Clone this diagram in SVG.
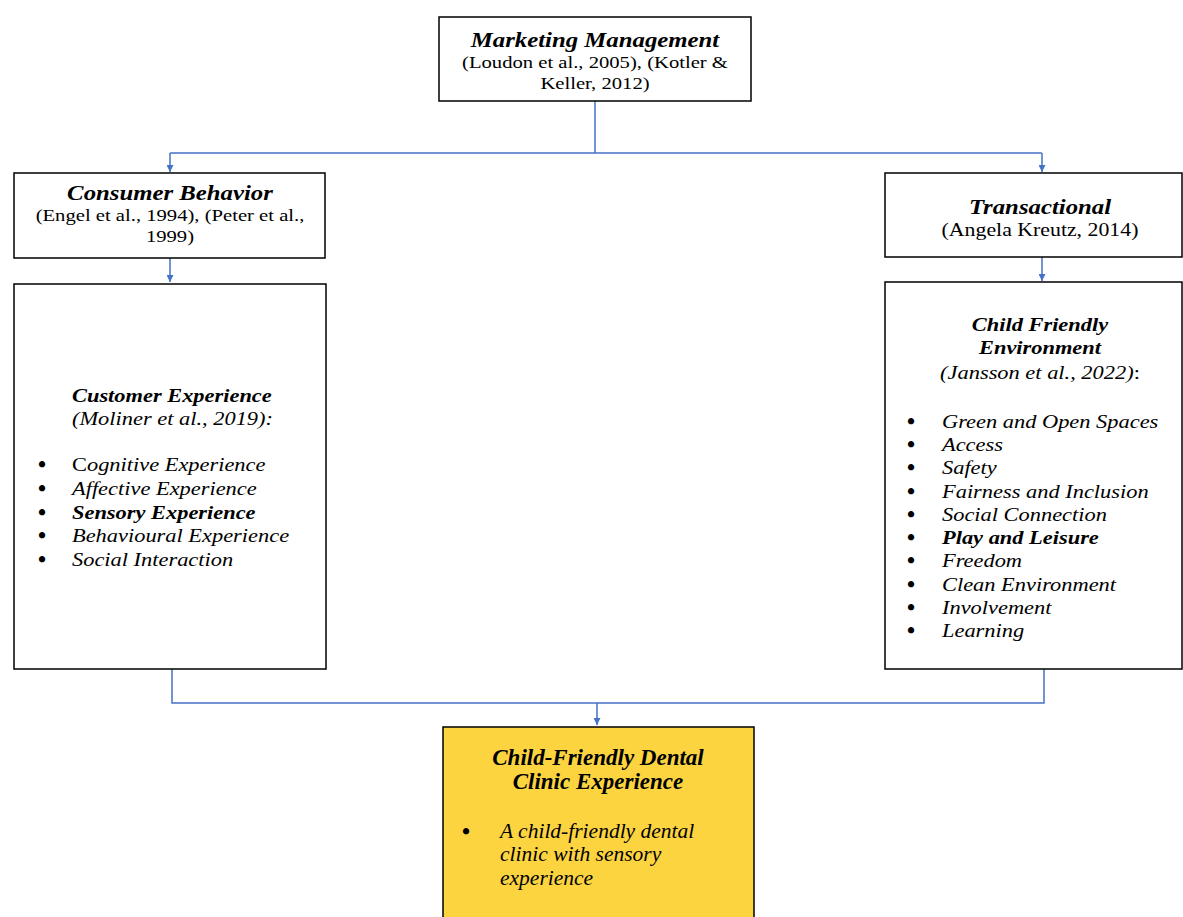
<svg xmlns="http://www.w3.org/2000/svg" width="1183" height="917" viewBox="0 0 1183 917">
<defs>
<style>
.box{fill:#fff;stroke:#000;stroke-width:1.5}
.yel{fill:#FCD440;stroke:#000;stroke-width:1.5}
.con{fill:none;stroke:#4472C4;stroke-width:1.5}
.t{font-family:"Liberation Serif","Times New Roman",serif;fill:#000}
.h{font-size:21px;font-weight:bold;font-style:italic}
.c{font-size:17.5px}
.i{font-size:19px;font-style:italic}
.b{font-size:19px;font-style:italic;font-weight:bold}
.bul{font-size:23px;font-weight:bold}
.m{text-anchor:middle}
</style>
<marker id="ah" viewBox="0 0 10 10" refX="10" refY="5" markerWidth="7" markerHeight="7" markerUnits="userSpaceOnUse" orient="auto">
<path d="M0,0 L10,5 L0,10 z" fill="#4472C4"/>
</marker>
</defs>
<rect width="1183" height="917" fill="#fff"/>
<g id="connectors">
<path class="con" d="M595,101 V153"/>
<path class="con" d="M170,153 H1042"/>
<path class="con" d="M170,153 V172" marker-end="url(#ah)"/>
<path class="con" d="M1042,153 V172" marker-end="url(#ah)"/>
<path class="con" d="M170,258 V282" marker-end="url(#ah)"/>
<path class="con" d="M1042,257 V281" marker-end="url(#ah)"/>
<path class="con" d="M172,669 V703 H1044 V669"/>
<path class="con" d="M597,703 V725" marker-end="url(#ah)"/>
</g>
<g id="marketing">
<rect class="box" x="439" y="17" width="312" height="84"/>
<g transform="matrix(1.18,0,0,1,-107.1,0)">
<text class="t h m" x="595" y="47">Marketing Management</text>
<text class="t c m" x="595" y="68">(Loudon et al., 2005), (Kotler &amp;</text>
<text class="t c m" x="595" y="89">Keller, 2012)</text>
</g>
</g>
<g id="consumer">
<rect class="box" x="14" y="173" width="311" height="85"/>
<g transform="matrix(1.18,0,0,1,-30.6,0)">
<text class="t h m" x="170" y="200">Consumer Behavior</text>
<text class="t c m" x="170" y="221">(Engel et al., 1994), (Peter et al.,</text>
<text class="t c m" x="170" y="242">1999)</text>
</g>
</g>
<g id="transactional">
<rect class="box" x="885" y="173" width="297" height="84"/>
<g transform="matrix(1.18,0,0,1,-187.2,0)">
<text class="t h m" x="1040" y="214">Transactional</text>
<text class="t m" x="1040" y="236" font-size="18.5">(Angela Kreutz, 2014)</text>
</g>
</g>
<g id="customer">
<rect class="box" x="14" y="284" width="312" height="385"/>
<g class="t bul">
<text x="38" y="472">•</text>
<text x="38" y="496">•</text>
<text x="38" y="520">•</text>
<text x="38" y="543">•</text>
<text x="38" y="567">•</text>
</g>
<g transform="matrix(1.18,0,0,1,-12.96,0)">
<text class="t b" x="72" y="402">Customer Experience</text>
<text class="t i" x="72" y="425" font-size="20.5">(Moliner et al., 2019):</text>
<g class="t i">
<text x="72" y="471"><tspan style="font-style:normal">C</tspan>ognitive Experience</text>
<text x="72" y="495">Affective Experience</text>
<text x="72" y="519" font-weight="bold">Sensory Experience</text>
<text x="72" y="542">Behavioural Experience</text>
<text x="72" y="566">Social Interaction</text>
</g>
</g>
</g>
<g id="childfriendly">
<rect class="box" x="885" y="282" width="297" height="387"/>
<g transform="matrix(1.18,0,0,1,-187.2,0)">
<text class="t b m" x="1040" y="331" font-size="20.5">Child Friendly</text>
<text class="t b m" x="1040" y="354" font-size="20.5">Environment</text>
<text class="t i m" x="1040" y="379" font-size="20.5">(Jansson et al., 2022)<tspan style="font-style:normal">:</tspan></text>
</g>
<g class="t bul">
<text x="907" y="429">•</text>
<text x="907" y="452">•</text>
<text x="907" y="475">•</text>
<text x="907" y="499">•</text>
<text x="907" y="522">•</text>
<text x="907" y="545">•</text>
<text x="907" y="568">•</text>
<text x="907" y="592">•</text>
<text x="907" y="615">•</text>
<text x="907" y="638">•</text>
</g>
<g class="t i" transform="matrix(1.18,0,0,1,-169.56,0)">
<text x="942" y="428">Green and Open Spaces</text>
<text x="942" y="451">Access</text>
<text x="942" y="474">Safety</text>
<text x="942" y="498">Fairness and Inclusion</text>
<text x="942" y="521">Social Connection</text>
<text x="942" y="544" font-weight="bold">Play and Leisure</text>
<text x="942" y="567">Freedom</text>
<text x="942" y="591">Clean Environment</text>
<text x="942" y="614">Involvement</text>
<text x="942" y="637">Learning</text>
</g>
</g>
<g id="dental">
<rect class="yel" x="443" y="727" width="311" height="210"/>
<text class="t m" x="598" y="765" font-size="23" font-weight="bold" font-style="italic">Child-Friendly Dental</text>
<text class="t m" x="598" y="789" font-size="23" font-weight="bold" font-style="italic">Clinic Experience</text>
<text class="t bul" x="462" y="839">•</text>
<g class="t" font-size="21.5" font-style="italic">
<text x="500" y="838">A child-friendly dental</text>
<text x="500" y="861">clinic with sensory</text>
<text x="500" y="885">experience</text>
</g>
</g>
</svg>
